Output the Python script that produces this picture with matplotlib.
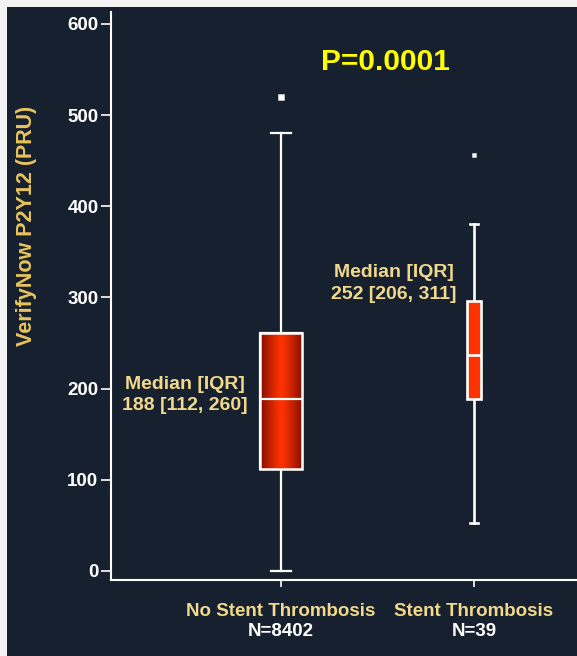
import numpy as np
import matplotlib
matplotlib.use("Agg")
import matplotlib.pyplot as plt
from matplotlib.patches import Rectangle
from matplotlib import font_manager

names = sorted({f.name for f in font_manager.fontManager.ttflist})
fam = "Liberation Sans" if "Liberation Sans" in names else "DejaVu Sans"
plt.rcParams['font.family'] = [fam, 'DejaVu Sans']
plt.rcParams['font.weight'] = 'bold'

# --- data ---
groups = ["No Stent Thrombosis", "Stent Thrombosis"]
n_labels = ["N=8402", "N=39"]
whislo = [0, 53]
q1 = [112, 188]
med = [189, 237]
q3 = [261, 296]
whishi = [480, 381]
fliers = [[520], [456]]
median_text = ["Median [IQR]\n188 [112, 260]", "Median [IQR]\n252 [206, 311]"]
p_text = "P=0.0001"
yticks = [0, 100, 200, 300, 400, 500, 600]

BG = "#17202e"
GOLD = "#f0d88c"

fig = plt.figure(figsize=(5.77, 6.56), dpi=100, facecolor=BG)
# light border on the left and top
fig.patches.append(Rectangle((0, 0), 7 / 577, 1, transform=fig.transFigure,
                             facecolor="#f3f3f3", edgecolor="none", zorder=-1))
fig.patches.append(Rectangle((0, (656 - 7) / 656), 1, 7 / 656, transform=fig.transFigure,
                             facecolor="#f3f3f3", edgecolor="none", zorder=-1))

ax = fig.add_axes([111 / 577, (656 - 580) / 656, 1 - 111 / 577, (580 - 12) / 656])
ax.set_facecolor("none")

positions = [1, 2]
widths = [0.218, 0.073]
capw = [0.108, 0.045]

stats = []
for i in range(2):
    stats.append(dict(whislo=whislo[i], q1=q1[i], med=med[i], q3=q3[i],
                      whishi=whishi[i], fliers=fliers[i]))

for i in range(2):
    ms = 5 if i == 0 else 3.5
    lw = 1.6 if i == 0 else 1.9
    res = ax.bxp([stats[i]], positions=[positions[i]], widths=widths[i], capwidths=capw[i],
                 patch_artist=True, showfliers=True,
                 boxprops=dict(facecolor="#ff3300", edgecolor="white", linewidth=lw),
                 whiskerprops=dict(color="white", linewidth=lw),
                 capprops=dict(color="white", linewidth=lw),
                 medianprops=dict(color="white", linewidth=lw),
                 flierprops=dict(marker="s", markerfacecolor="white", markeredgecolor="#cccccc",
                                 markersize=ms, markeredgewidth=0.5))
    box = res["boxes"][0]
    box.set_zorder(3)
    res["medians"][0].set_zorder(5)
    if i == 0:
        # horizontal dark-bright-dark gradient inside first box
        t = np.linspace(-1, 1, 200)
        w = np.abs(t) ** 1.2
        c_mid = np.array([1.0, 0.2, 0.0])
        c_edge = np.array([0.5, 0.05, 0.0])
        grad = (1 - w)[:, None] * c_mid + w[:, None] * c_edge
        img = ax.imshow(grad[None, :, :], aspect="auto", zorder=3.5,
                        extent=[positions[i] - widths[i] / 2, positions[i] + widths[i] / 2, q1[i], q3[i]])
        img.set_clip_path(box)
        edge = Rectangle((positions[i] - widths[i] / 2, q1[i]), widths[i], q3[i] - q1[i],
                         facecolor="none", edgecolor="white", linewidth=1.8, zorder=4)
        ax.add_patch(edge)

ax.set_xlim(0.119, 2.534)
ax.set_ylim(-10, 613)
ax.set_yticks(yticks)
ax.set_xticks(positions)
ax.set_xticklabels([])

for s in ["top", "right"]:
    ax.spines[s].set_visible(False)
for s in ["left", "bottom"]:
    ax.spines[s].set_color("white")
    ax.spines[s].set_linewidth(1.5)

ax.tick_params(axis="y", direction="out", length=7, width=1.2, colors="white",
               labelsize=13.5, pad=2)
ax.tick_params(axis="x", direction="out", length=5, width=1.2, colors="white")
for lab in ax.get_yticklabels():
    lab.set_fontweight("bold")

# category labels under the axis
xt = ax.get_xaxis_transform()
for i in range(2):
    ax.text(positions[i], -31 / 568, groups[i], transform=xt, ha="center", va="center",
            color=GOLD, fontsize=13.5, fontweight="bold")
    ax.text(positions[i], -52 / 568, n_labels[i], transform=xt, ha="center", va="center",
            color="white", fontsize=13.5, fontweight="bold")

# median annotations
ax.text(0.502, 193, median_text[0], ha="center", va="center", color=GOLD,
        fontsize=14, fontweight="bold", linespacing=1.3)
ax.text(1.585, 315, median_text[1], ha="center", va="center", color=GOLD,
        fontsize=14, fontweight="bold", linespacing=1.4)

ax.text(1.539, 558, p_text, ha="center", va="center", color="#ffff00",
        fontsize=21.5, fontweight="bold")

fig.text(27 / 577, (656 - 226) / 656, "VerifyNow P2Y12 (PRU)", rotation=90,
         ha="center", va="center", color="#e8c45c", fontsize=15.5, fontweight="bold")

fig.savefig("out.png", dpi=100, facecolor=fig.get_facecolor())
